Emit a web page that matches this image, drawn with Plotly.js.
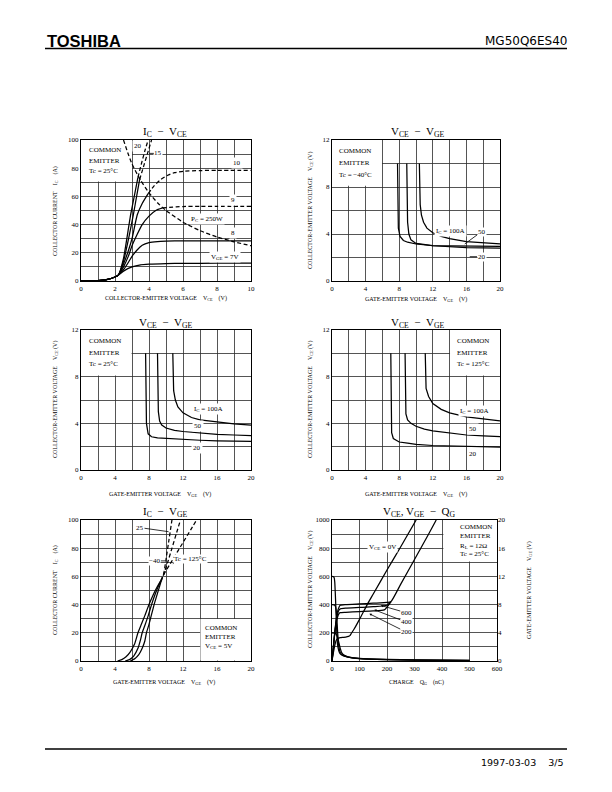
<!DOCTYPE html>
<html>
<head>
<meta charset="utf-8">
<script src="https://cdn.plot.ly/plotly-3.0.1.min.js"></script>
<style>
  html, body { margin: 0; padding: 0; background: #fff; }
  #page { width: 612px; height: 792px; }
</style>
</head>
<body>
<div id="page"></div>
<script>
// ---- IC - VCE, Tc = 25C (VGE = 7 .. 20 V, PC = 250 W) ----
const vce7 = [0, 0.5, 1, 1.5, 2, 2.2, 2.5, 3, 3.5, 4, 5, 6, 8, 10];
const ic7 = [0, 0.1, 0.3, 1, 2.8, 4.2, 7, 10, 11.5, 12, 12.4, 12.5, 12.6, 12.6];
const vce8 = [0, 0.5, 1, 1.5, 2, 2.2, 2.5, 2.8, 3, 3.3, 3.6, 4, 4.5, 5, 6, 8, 10];
const ic8 = [0, 0.1, 0.3, 1, 2.8, 4.2, 8, 13.5, 17.5, 22, 25.3, 27.2, 28, 28.3, 28.5, 28.5, 28.5];
const vce9 = [0, 0.5, 1, 1.5, 2, 2.2, 2.5, 2.8, 3, 3.3, 3.6, 4, 4.4, 4.8];
const ic9 = [0, 0.1, 0.3, 1, 2.8, 4.2, 10, 18, 25, 33, 40, 46, 50, 51.8];
const vce9d = [4.8, 5.2, 5.6, 6, 7, 8, 10];
const ic9d = [51.8, 52.3, 52.6, 52.8, 53, 53, 53];
const vce10 = [0, 0.5, 1, 1.5, 2, 2.2, 2.5, 2.8, 3, 3.31, 3.6, 3.95];
const ic10 = [0, 0.1, 0.3, 1, 2.8, 4.2, 12, 22, 30, 47, 55, 62];
const vce10d = [3.95, 4.3, 4.7, 5.1, 5.5, 6, 7, 8, 10];
const ic10d = [62, 67.5, 72, 75, 76.8, 77.8, 78.3, 78.5, 78.5];
const vce15 = [0, 0.5, 1, 1.5, 2, 2.2, 2.5, 2.8, 3.08, 3.3, 3.45];
const ic15 = [0, 0.1, 0.3, 1, 2.8, 4.2, 14, 30, 47, 62, 72];
const vce15d = [3.45, 3.7, 3.9, 4.15];
const ic15d = [72, 82, 90, 100];
const vce20 = [0, 0.5, 1, 1.5, 2, 2.2, 2.5, 2.8, 2.92, 3.1, 3.35];
const ic20 = [0, 0.1, 0.3, 1, 2.8, 4.2, 16, 38, 47, 58, 73.5];
const vce20d = [3.35, 3.55, 3.75, 3.95];
const ic20d = [73.5, 83, 92, 100];
const pcV = [2.5, 2.75, 3, 3.5, 4, 4.5, 5, 6, 7, 8, 9, 10];
const pcI = [100, 91, 83, 71.5, 62.5, 55.5, 50, 41.7, 35.7, 31.2, 27.8, 25];

// ---- VCE - VGE, Tc = -40C ----
const m40v100 = [10.4, 10.42, 10.5, 10.65, 10.9, 11.3, 12, 13, 14, 16, 18, 20];
const m40c100 = [10, 8, 6.5, 5.6, 5.0, 4.5, 4.1, 3.8, 3.6, 3.35, 3.22, 3.15];
const m40v50 = [8.9, 8.92, 9.0, 9.15, 9.4, 10, 11, 12, 14, 16, 18, 20];
const m40c50 = [10, 7, 5, 4.0, 3.5, 3.2, 3.08, 3.02, 2.98, 2.96, 2.95, 2.95];
const m40v20 = [7.8, 7.82, 7.9, 8.1, 8.5, 9, 10, 12, 14, 16, 18, 20];
const m40c20 = [10, 6, 4.5, 3.8, 3.45, 3.3, 3.15, 3.0, 2.9, 2.85, 2.82, 2.8];

// ---- VCE - VGE, Tc = 25C ----
const t25v100 = [10.8, 10.82, 10.9, 11.1, 11.4, 12, 13, 14, 16, 18, 20];
const t25c100 = [10, 8, 6.8, 6.0, 5.4, 4.9, 4.5, 4.3, 4.1, 3.95, 3.85];
const t25v50 = [9.0, 9.02, 9.1, 9.25, 9.5, 10, 11, 12, 14, 16, 18, 20];
const t25c50 = [10, 7, 5, 4.2, 3.85, 3.6, 3.4, 3.3, 3.15, 3.05, 3.0, 2.95];
const t25v20 = [7.6, 7.62, 7.7, 7.9, 8.3, 9, 10, 12, 14, 16, 18, 20];
const t25c20 = [10, 6, 4, 3.1, 2.85, 2.75, 2.7, 2.6, 2.55, 2.5, 2.47, 2.45];

// ---- VCE - VGE, Tc = 125C ----
const t125v100 = [11.1, 11.12, 11.2, 11.5, 12, 13, 14, 16, 18, 20];
const t125c100 = [10, 8, 7, 6.3, 5.7, 5.2, 4.9, 4.55, 4.35, 4.2];
const t125v50 = [8.7, 8.72, 8.8, 9.0, 9.4, 10, 11, 12, 14, 16, 18, 20];
const t125c50 = [10, 6, 4.8, 4.3, 4.0, 3.75, 3.5, 3.35, 3.15, 3.0, 2.92, 2.85];
const t125v20 = [7.0, 7.02, 7.1, 7.3, 7.7, 8, 9, 10, 12, 14, 16, 18, 20];
const t125c20 = [10, 5, 3.2, 2.7, 2.5, 2.4, 2.3, 2.2, 2.1, 2.05, 2.0, 1.98, 1.95];

// ---- IC - VGE, VCE = 5V ----
const gN40 = [5.8, 6.3, 6.8, 7.2, 7.5, 7.7, 8.0, 8.3, 8.6, 8.9, 9.2, 9.4];
const iN40 = [0, 1.5, 4.5, 9, 14, 20, 26, 33, 40, 46, 52, 56];
const gN40d = [9.4, 9.7, 10.2, 10.7, 11.2, 11.7];
const iN40d = [56, 61, 70, 80, 90, 100];
const g25 = [5.2, 5.7, 6.2, 6.7, 7.0, 7.2, 7.5, 7.9, 8.3, 8.7, 9.1, 9.4];
const i25 = [0, 1, 3.5, 9, 15, 20, 25, 32, 40, 47, 53, 57];
const g25d = [9.4, 9.7, 10.0, 10.35, 10.7];
const i25d = [57, 61, 72, 86, 100];
const g125 = [4.3, 4.8, 5.3, 5.8, 6.3, 6.7, 7.1, 7.5, 8.0, 8.5, 9.0, 9.4];
const i125 = [0, 1, 3, 6.5, 12, 20, 26, 32, 40, 47, 53, 57];
const g125d = [9.4, 9.7, 10.5, 11.3, 12.1, 12.9, 13.6];
const i125d = [57, 61, 69, 77, 85, 93, 100];

// ---- VCE, VGE - QG ----
const qgV0 = [0, 5, 10, 15, 20, 30, 40, 50, 60, 65, 70, 80, 100, 128, 150, 200, 250, 306];
const vgeV0 = [0, 1.2, 2.2, 2.9, 3.15, 3.3, 3.35, 3.4, 3.5, 3.6, 3.9, 4.5, 5.9, 8, 9.5, 12.9, 16.2, 20];
const qg600 = [0, 5, 10, 15, 20, 25, 30, 50, 100, 150, 200, 214, 250, 300, 350, 379];
const vge600 = [0, 2, 4, 5.8, 7.0, 7.6, 7.9, 8.0, 8.1, 8.2, 8.3, 8.4, 10.9, 14.4, 17.9, 20];
const qg400 = [0, 5, 10, 15, 20, 25, 30, 50, 100, 150, 200, 214];
const vge400 = [0, 2, 4, 5.6, 6.6, 7.2, 7.4, 7.5, 7.6, 7.7, 7.9, 8.4];
const qg200 = [0, 5, 10, 15, 20, 25, 30, 50, 100, 150, 190, 214];
const vge200 = [0, 2, 3.9, 5.3, 6.2, 6.7, 6.85, 6.9, 7.0, 7.1, 7.25, 8.4];
const qgC600 = [0, 5, 8, 10, 12, 14, 16, 18, 20, 25, 30, 40, 60, 100, 200, 300, 500];
const vce600 = [600, 598, 590, 560, 480, 380, 270, 180, 120, 70, 50, 38, 28, 18, 11, 8, 5];
const qgC400 = [0, 8, 12, 15, 18, 20, 22, 25, 30, 40, 60, 100, 200, 300, 500];
const vce400 = [400, 398, 390, 360, 290, 220, 160, 100, 60, 40, 28, 17, 10, 7, 4];
const qgC200 = [0, 10, 15, 20, 25, 30, 35, 45, 60, 100, 200, 300, 500];
const vce200 = [200, 198, 190, 170, 130, 90, 60, 40, 28, 16, 9, 6, 3];

const SERIF = '"Liberation Serif", "DejaVu Serif", serif';
const W = 612, H = 792;
const px = x => x / W;
const py = y => 1 - y / H;
const GRID = '#2a2a2a';
const NB = '\u00a0';

function axis(d0, d1, range, major, minor, extra) {
  const a = {
    domain: [d0, d1], range: range, dtick: major, tick0: 0, autorange: false,
    showgrid: true, gridcolor: GRID, gridwidth: 0.8,
    zeroline: false, showline: true, linecolor: '#000', linewidth: 1.1, mirror: true,
    ticks: '', tickfont: {family: SERIF, size: 7, color: '#000'}, fixedrange: true
  };
  if (minor) a.minor = {dtick: minor, tick0: 0, showgrid: true, gridcolor: GRID, gridwidth: 0.8};
  return Object.assign(a, extra || {});
}

const data = [];
function add(x, y, xa, ya, dash, shape) {
  data.push({
    x: x, y: y, xaxis: xa, yaxis: ya, type: 'scatter', mode: 'lines',
    line: {color: '#000', width: 1.25, dash: dash ? '4px,2.5px' : 'solid',
      shape: shape || 'spline', smoothing: 0.5},
    hoverinfo: 'skip', showlegend: false
  });
}

// chart 1
add(vce7, ic7, 'x', 'y');
add(vce8, ic8, 'x', 'y');
add(vce9, ic9, 'x', 'y');
add(vce9d, ic9d, 'x', 'y', true);
add(vce10, ic10, 'x', 'y');
add(vce10d, ic10d, 'x', 'y', true);
add(vce15, ic15, 'x', 'y');
add(vce15d, ic15d, 'x', 'y', true);
add(vce20, ic20, 'x', 'y');
add(vce20d, ic20d, 'x', 'y', true);
add(pcV, pcI, 'x', 'y', true);
// chart 2
add(m40v100, m40c100, 'x2', 'y2', false, 'linear');
add(m40v50, m40c50, 'x2', 'y2', false, 'linear');
add(m40v20, m40c20, 'x2', 'y2', false, 'linear');
// chart 3
add(t25v100, t25c100, 'x3', 'y3', false, 'linear');
add(t25v50, t25c50, 'x3', 'y3', false, 'linear');
add(t25v20, t25c20, 'x3', 'y3', false, 'linear');
// chart 4
add(t125v100, t125c100, 'x4', 'y4', false, 'linear');
add(t125v50, t125c50, 'x4', 'y4', false, 'linear');
add(t125v20, t125c20, 'x4', 'y4', false, 'linear');
// chart 5
add(gN40, iN40, 'x5', 'y5');
add(gN40d, iN40d, 'x5', 'y5', true);
add(g25, i25, 'x5', 'y5');
add(g25d, i25d, 'x5', 'y5', true);
add(g125, i125, 'x5', 'y5');
add(g125d, i125d, 'x5', 'y5', true);
// chart 6
add(qgV0, vgeV0, 'x6', 'y7');
add(qg600, vge600, 'x6', 'y7');
add(qg400, vge400, 'x6', 'y7');
add(qg200, vge200, 'x6', 'y7');
add(qgC600, vce600, 'x6', 'y6');
add(qgC400, vce400, 'x6', 'y6');
add(qgC200, vce200, 'x6', 'y6');

const ann = [];
function txt(x, y, text, xr, yr, o) {
  ann.push(Object.assign({x: x, y: y, xref: xr, yref: yr, text: text, showarrow: false,
    xanchor: 'center', yanchor: 'middle',
    font: {family: SERIF, size: 7, color: '#000'}}, o || {}));
}
function lead(x, y, tx, ty, text, xr, yr, head) {
  ann.push({x: x, y: y, ax: tx, ay: ty, axref: xr, ayref: yr, xref: xr, yref: yr, text: text,
    showarrow: true, arrowhead: head ? 2 : 0, arrowsize: 0.6, arrowwidth: 0.8, arrowcolor: '#000',
    standoff: 0, font: {family: SERIF, size: 7, color: '#000'}, bgcolor: '#fff', borderpad: 0});
}
function paperTxt(x, y, text, size, o) {
  ann.push(Object.assign({x: px(x), y: py(y), xref: 'paper', yref: 'paper', text: text, showarrow: false,
    xanchor: 'center', yanchor: 'middle',
    font: {family: SERIF, size: size, color: '#000'}}, o || {}));
}

// chart titles
paperTxt(165, 132, 'I<sub>C</sub>' + NB + ' − ' + NB + 'V<sub>CE</sub>', 11);
paperTxt(417, 132, 'V<sub>CE</sub>' + NB + ' − ' + NB + 'V<sub>GE</sub>', 11);
paperTxt(165, 323, 'V<sub>CE</sub>' + NB + ' − ' + NB + 'V<sub>GE</sub>', 11);
paperTxt(417, 323, 'V<sub>CE</sub>' + NB + ' − ' + NB + 'V<sub>GE</sub>', 11);
paperTxt(165, 512, 'I<sub>C</sub>' + NB + ' − ' + NB + 'V<sub>GE</sub>', 11);
paperTxt(419, 512, 'V<sub>CE</sub>, V<sub>GE</sub>' + NB + ' − ' + NB + 'Q<sub>G</sub>', 11);

// axis titles
const sp = NB + NB + NB + NB;
const xVce = 'COLLECTOR-EMITTER VOLTAGE' + sp + 'V<sub>CE</sub>' + sp + '(V)';
const xVge = 'GATE-EMITTER VOLTAGE' + sp + 'V<sub>GE</sub>' + sp + '(V)';
const yIc = 'COLLECTOR CURRENT' + sp + 'I<sub>C</sub>' + sp + '(A)';
const yVce = 'COLLECTOR-EMITTER VOLTAGE' + sp + 'V<sub>CE</sub> (V)';
paperTxt(166, 298, xVce, 6);
paperTxt(416, 299, xVge, 6);
paperTxt(160, 494, xVge, 6);
paperTxt(416, 494, xVge, 6);
paperTxt(164, 682, xVge, 6);
paperTxt(416, 682, 'CHARGE' + sp + 'Q<sub>G</sub>' + sp + '(nC)', 6);
paperTxt(55, 211, yIc, 6, {textangle: -90});
paperTxt(310, 211, yVce, 6, {textangle: -90});
paperTxt(55, 400, yVce, 6, {textangle: -90});
paperTxt(310, 400, yVce, 6, {textangle: -90});
paperTxt(55, 590, yIc, 6, {textangle: -90});
paperTxt(310, 590, yVce, 6, {textangle: -90});
paperTxt(529, 590, 'GATE-EMITTER VOLTAGE' + sp + 'V<sub>GE</sub> (V)', 6, {textangle: -90});

// chart 1 labels
txt(0.35, 93, 'COMMON', 'x', 'y', {xanchor: 'left'});
txt(0.35, 85.3, 'EMITTER', 'x', 'y', {xanchor: 'left'});
txt(0.35, 78, 'Tc = 25°C', 'x', 'y', {xanchor: 'left'});
txt(3.35, 95.5, '20', 'x', 'y', {bgcolor: '#fff'});
lead(4.02, 90.5, 4.55, 90.5, '15', 'x', 'y');
txt(9.15, 83.5, '10', 'x', 'y', {bgcolor: '#fff'});
txt(8.96, 57.5, '9', 'x', 'y', {bgcolor: '#fff'});
txt(7.4, 44, 'P<sub>C</sub> = 250W', 'x', 'y', {bgcolor: '#fff'});
txt(8.96, 33.8, '8', 'x', 'y', {bgcolor: '#fff'});
txt(8.46, 17.3, 'V<sub>GE</sub> = 7V', 'x', 'y', {bgcolor: '#fff'});

// chart 2 labels
txt(0.6, 11.1, 'COMMON', 'x2', 'y2', {xanchor: 'left'});
txt(0.6, 10.07, 'EMITTER', 'x2', 'y2', {xanchor: 'left'});
txt(0.6, 9.0, 'Tc = −40°C', 'x2', 'y2', {xanchor: 'left'});
txt(14.1, 4.25, 'I<sub>C</sub> = 100A', 'x2', 'y2', {bgcolor: '#fff'});
lead(15.8, 3.15, 17.8, 4.2, '50', 'x2', 'y2');
lead(16.4, 2.07, 17.8, 2.07, '20', 'x2', 'y2');

// chart 3 labels
txt(0.67, 11.1, 'COMMON', 'x3', 'y3', {xanchor: 'left'});
txt(0.67, 10.06, 'EMITTER', 'x3', 'y3', {xanchor: 'left'});
txt(0.67, 9.1, 'Tc = 25°C', 'x3', 'y3', {xanchor: 'left'});
txt(15.0, 5.23, 'I<sub>C</sub> = 100A', 'x3', 'y3', {bgcolor: '#fff'});
txt(13.8, 3.77, '50', 'x3', 'y3', {bgcolor: '#fff'});
txt(13.7, 1.91, '20', 'x3', 'y3', {bgcolor: '#fff'});

// chart 4 labels
txt(14.65, 11.1, 'COMMON', 'x4', 'y4', {xanchor: 'left'});
txt(14.65, 10.0, 'EMITTER', 'x4', 'y4', {xanchor: 'left'});
txt(14.65, 9.1, 'Tc = 125°C', 'x4', 'y4', {xanchor: 'left'});
txt(17.0, 5.1, 'I<sub>C</sub> = 100A', 'x4', 'y4', {bgcolor: '#fff'});
txt(16.8, 3.5, '50', 'x4', 'y4', {bgcolor: '#fff'});
txt(16.8, 1.36, '20', 'x4', 'y4', {bgcolor: '#fff'});

// chart 5 labels
txt(14.4, 23.6, 'COMMON', 'x5', 'y5', {xanchor: 'left'});
txt(14.4, 17.3, 'EMITTER', 'x5', 'y5', {xanchor: 'left'});
txt(14.4, 10.6, 'V<sub>CE</sub> = 5V', 'x5', 'y5', {xanchor: 'left'});
lead(10.3, 91.7, 6.94, 94.6, '25', 'x5', 'y5');
lead(9.9, 71, 8.7, 71, '−40', 'x5', 'y5');
lead(10.8, 69, 12.9, 72, 'Tc = 125°C', 'x5', 'y5');

// chart 6 labels
txt(184, 811, 'V<sub>CE</sub> = 0V', 'x6', 'y6', {bgcolor: '#fff'});
txt(459, 953, 'COMMON', 'x6', 'y6', {xanchor: 'left'});
txt(459, 889, 'EMITTER', 'x6', 'y6', {xanchor: 'left'});
txt(459, 818, 'R<sub>L</sub> = 12Ω', 'x6', 'y6', {xanchor: 'left'});
txt(459, 757, 'Tc = 25°C', 'x6', 'y6', {xanchor: 'left'});
lead(178, 394, 270, 342, '600', 'x6', 'y6', true);
lead(154, 363, 270, 276, '400', 'x6', 'y6', true);
lead(136, 335, 270, 205, '200', 'x6', 'y6', true);

// header / footer
ann.push({x: px(45), y: py(41), xref: 'paper', yref: 'paper', xanchor: 'left', yanchor: 'middle',
  text: '<b>TOSHIBA</b>', showarrow: false,
  font: {family: '"Liberation Sans", Arial, sans-serif', size: 16.5, color: '#000'}});
ann.push({x: px(569), y: py(41), xref: 'paper', yref: 'paper', xanchor: 'right', yanchor: 'middle',
  text: 'MG50Q6ES40', showarrow: false,
  font: {family: '"DejaVu Sans", sans-serif', size: 12, color: '#000'}});
ann.push({x: px(566), y: py(762), xref: 'paper', yref: 'paper', xanchor: 'right', yanchor: 'middle',
  text: '1997-03-03' + NB + NB + NB + NB + '3/5', showarrow: false,
  font: {family: '"DejaVu Sans", sans-serif', size: 9.5, color: '#000'}});

function box(x0, x1, y0, y1, xr, yr) {
  return {type: 'rect', xref: xr, yref: yr, x0: x0, x1: x1, y0: y0, y1: y1,
    fillcolor: '#fff', line: {width: 0}, layer: 'between'};
}
const shapes = [
  {type: 'line', xref: 'paper', yref: 'paper', x0: px(45), x1: px(567), y0: py(48.5), y1: py(48.5),
    line: {color: '#000', width: 1.4}},
  {type: 'line', xref: 'paper', yref: 'paper', x0: px(45), x1: px(567), y0: py(749), y1: py(749),
    line: {color: '#000', width: 1.4}},
  box(0, 3, 70.6, 100, 'x', 'y'),
  box(0, 5.95, 8.1, 12, 'x2', 'y2'),
  box(0, 5.95, 8.1, 12, 'x3', 'y3'),
  box(14.05, 20, 8.1, 12, 'x4', 'y4'),
  box(14.05, 20, 0.3, 29.7, 'x5', 'y5'),
  box(405, 600, 705, 1000, 'x6', 'y6')
];

const xl = px(81), xr = px(251), xl2 = px(332), xr2 = px(500);
const layout = {
  width: W, height: H, margin: {l: 0, r: 0, t: 0, b: 0},
  font: {family: SERIF, color: '#000'},
  paper_bgcolor: '#fff', plot_bgcolor: '#fff', showlegend: false,
  xaxis: axis(xl, xr, [0, 10], 2, 1, {anchor: 'y'}),
  yaxis: axis(py(281), py(140), [0, 100], 20, 10, {anchor: 'x'}),
  xaxis2: axis(xl2, xr2, [0, 20], 4, 2, {anchor: 'y2'}),
  yaxis2: axis(py(281), py(140), [0, 12], 4, 2, {anchor: 'x2'}),
  xaxis3: axis(xl, xr, [0, 20], 4, 2, {anchor: 'y3'}),
  yaxis3: axis(py(470), py(330), [0, 12], 4, 2, {anchor: 'x3'}),
  xaxis4: axis(xl2, xr2, [0, 20], 4, 2, {anchor: 'y4'}),
  yaxis4: axis(py(470), py(330), [0, 12], 4, 2, {anchor: 'x4'}),
  xaxis5: axis(xl, xr, [0, 20], 4, 2, {anchor: 'y5'}),
  yaxis5: axis(py(661), py(520), [0, 100], 20, 10, {anchor: 'x5'}),
  xaxis6: axis(xl2, px(497), [0, 600], 100, null, {anchor: 'y6'}),
  yaxis6: axis(py(661), py(520), [0, 1000], 200, 100, {anchor: 'x6'}),
  yaxis7: axis(py(661), py(520), [0, 20], 4, null, {anchor: 'x6', overlaying: 'y6', side: 'right',
    showgrid: false, showline: false, mirror: false}),
  annotations: ann,
  shapes: shapes
};

Plotly.newPlot('page', data, layout, {staticPlot: true});
</script>
</body>
</html>
